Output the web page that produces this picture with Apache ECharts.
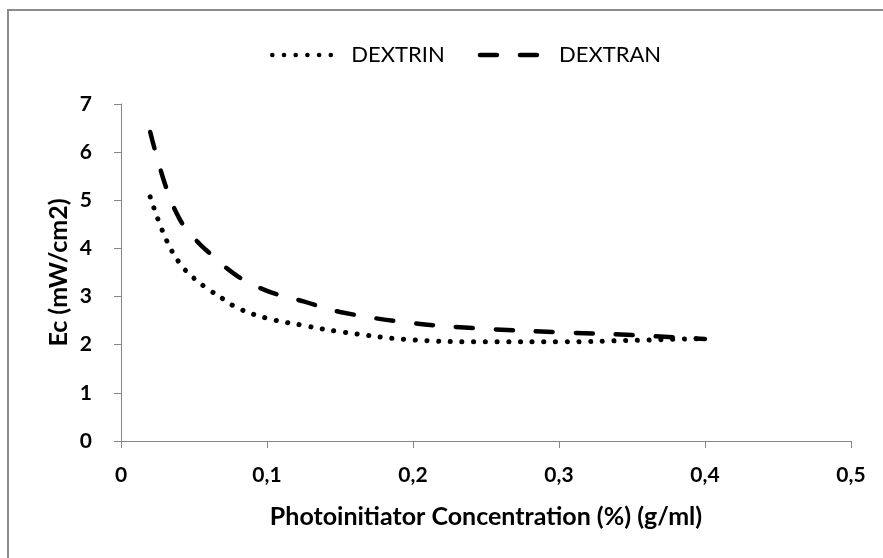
<!DOCTYPE html>
<html>
<head>
<meta charset="utf-8">
<script src="https://cdn.jsdelivr.net/npm/echarts@6/dist/echarts.min.js"></script>
<style>
  html, body { margin: 0; padding: 0; background: #fff; }
  #chart { width: 883px; height: 558px; }
</style>
</head>
<body>
<div id="chart"></div>
<script>
// Data
const seriesNames = ['DEXTRIN', 'DEXTRAN'];
const dextrinX = [0.02, 0.03, 0.04, 0.05, 0.06, 0.07, 0.08, 0.10, 0.125, 0.15, 0.20, 0.25, 0.30, 0.35, 0.40];
const dextrinY = [5.07, 4.25, 3.70, 3.38, 3.15, 2.95, 2.76, 2.55, 2.40, 2.27, 2.10, 2.06, 2.06, 2.09, 2.13];
const dextranX = [0.02, 0.03, 0.04, 0.05, 0.06, 0.08, 0.10, 0.125, 0.15, 0.20, 0.25, 0.30, 0.35, 0.40];
const dextranY = [6.42, 5.35, 4.62, 4.22, 3.92, 3.42, 3.12, 2.90, 2.68, 2.45, 2.33, 2.26, 2.20, 2.12];
const xTicks = [0, 0.1, 0.2, 0.3, 0.4, 0.5];
const yTicks = [0, 1, 2, 3, 4, 5, 6, 7];
const xTitle = 'Photoinitiator Concentration (%) (g/ml)';
const yTitle = 'Ec (mW/cm2)';

const zip = (xs, ys) => xs.map((x, i) => [x, ys[i]]);
const fontFam = 'Lato, "Liberation Sans", Arial, sans-serif';
const axisColor = '#868686';
const dotType = [0.1, 11.6];
const dashType = [17, 23];

const chart = echarts.init(document.getElementById('chart'), null, { renderer: 'canvas' });
chart.setOption({
  animation: false,
  backgroundColor: '#ffffff',
  graphic: [{
    type: 'rect',
    shape: { x: 8, y: 10, width: 900, height: 600 },
    style: { fill: 'none', stroke: '#8c8c8c', lineWidth: 2 },
    silent: true
  }],
  legend: {
    top: 39,
    left: 265,
    itemWidth: 63,
    itemHeight: 14,
    itemGap: 33,
    itemStyle: { opacity: 0 },
    lineStyle: { width: 4.5, cap: 'round' },
    textStyle: { fontFamily: fontFam, fontSize: 22, color: '#000', padding: [0, 0, 0, 11] },
    data: seriesNames
  },
  grid: { left: 121, right: 32, top: 104, bottom: 117, containLabel: false },
  xAxis: {
    type: 'value',
    min: xTicks[0],
    max: xTicks[xTicks.length - 1],
    interval: 0.1,
    name: xTitle,
    nameLocation: 'middle',
    nameGap: 63,
    nameMoveOverlap: false,
    nameTextStyle: { fontFamily: fontFam, fontSize: 25, fontWeight: 'bold', color: '#000', verticalAlign: 'top' },
    axisLine: { show: true, lineStyle: { color: axisColor, width: 1 } },
    axisTick: { show: true, length: 7, lineStyle: { color: axisColor } },
    splitLine: { show: false },
    axisLabel: {
      margin: 24,
      fontFamily: fontFam, fontSize: 21, fontWeight: 'bold', color: '#000',
      formatter: v => String(Math.round(v * 10) / 10).replace('.', ',')
    }
  },
  yAxis: {
    type: 'value',
    min: yTicks[0],
    max: yTicks[yTicks.length - 1],
    interval: 1,
    name: yTitle,
    nameLocation: 'middle',
    nameGap: 50,
    nameMoveOverlap: false,
    nameTextStyle: { fontFamily: fontFam, fontSize: 25, fontWeight: 'bold', color: '#000' },
    axisLine: { show: true, lineStyle: { color: axisColor, width: 1 } },
    axisTick: { show: true, length: 7, lineStyle: { color: axisColor } },
    splitLine: { show: false },
    axisLabel: {
      margin: 29,
      fontFamily: fontFam, fontSize: 21, fontWeight: 'bold', color: '#000'
    }
  },
  series: [
    {
      name: seriesNames[0],
      type: 'line',
      smooth: 0.4,
      showSymbol: false,
      data: zip(dextrinX, dextrinY),
      itemStyle: { color: '#000' },
      lineStyle: { color: '#000', width: 5, type: dotType, cap: 'round' }
    },
    {
      name: seriesNames[1],
      type: 'line',
      smooth: 0.4,
      showSymbol: false,
      data: zip(dextranX, dextranY),
      itemStyle: { color: '#000' },
      lineStyle: { color: '#000', width: 4.5, type: dashType, cap: 'round' }
    }
  ]
});
</script>
</body>
</html>
